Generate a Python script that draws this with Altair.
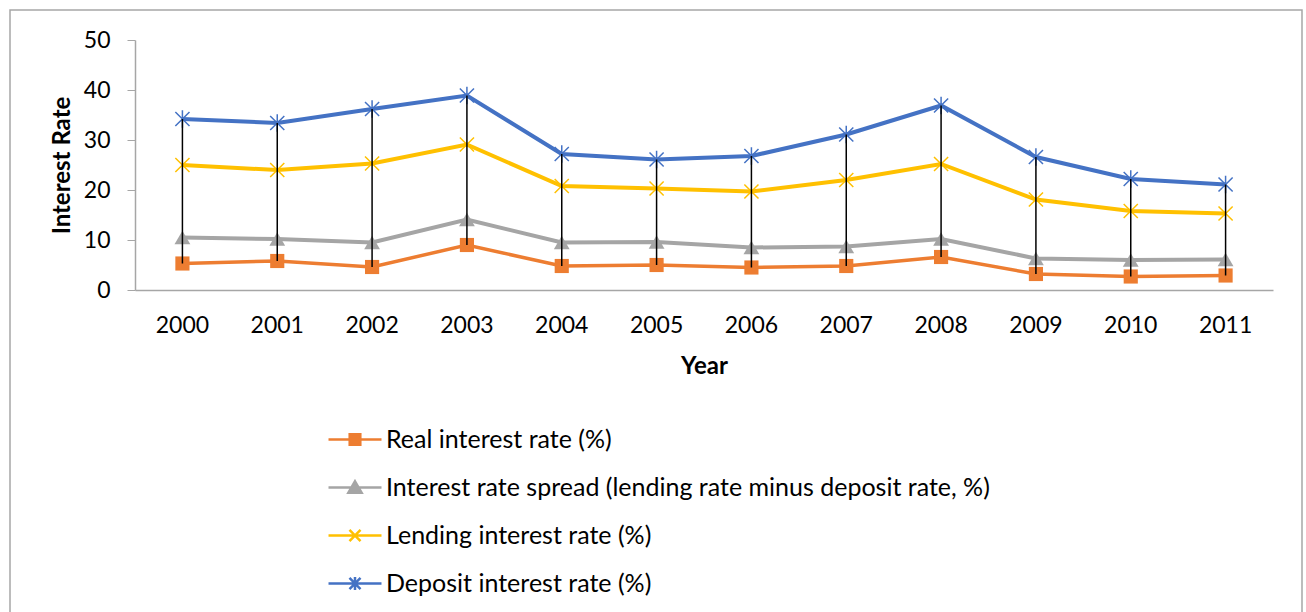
import altair as alt
import pandas as pd

years = ["2000", "2001", "2002", "2003", "2004", "2005", "2006", "2007", "2008", "2009", "2010", "2011"]
series_names = [
    "Real interest rate (%)",
    "Interest rate spread (lending rate minus deposit rate, %)",
    "Lending interest rate (%)",
    "Deposit interest rate (%)",
]
real = [5.3, 5.8, 4.6, 9.0, 4.8, 5.0, 4.5, 4.8, 6.6, 3.2, 2.7, 2.9]
spread = [10.5, 10.2, 9.5, 14.1, 9.5, 9.6, 8.5, 8.7, 10.2, 6.3, 6.0, 6.1]
lending = [25.0, 24.0, 25.3, 29.1, 20.8, 20.3, 19.7, 22.0, 25.2, 18.1, 15.8, 15.3]
deposit = [34.2, 33.4, 36.2, 38.9, 27.2, 26.1, 26.8, 31.1, 36.9, 26.6, 22.2, 21.1]
colors = ["#ED7D31", "#A5A5A5", "#FFC000", "#4472C4"]

values = [real, spread, lending, deposit]
rows = []
for name, vals in zip(series_names, values):
    for y, v in zip(years, vals):
        rows.append({"year": y, "series": name, "value": v})
df = pd.DataFrame(rows)

FONT = "Lato"
X_PATH = "M-1,-1L1,1M-1,1L1,-1"
AST_PATH = "M-1,-1L1,1M-1,1L1,-1M0,-1.25L0,1.25"
marker_specs = [
    dict(shape="square", filled=True, size=200, strokeWidth=0),
    dict(shape="triangle-up", filled=True, size=250, strokeWidth=0),
    dict(shape=X_PATH, filled=False, size=200, strokeWidth=1.5),
    dict(shape=AST_PATH, filled=False, size=200, strokeWidth=1.5),
]
line_widths = [3.5, 4, 4, 4]
legend_paths = [
    "M-1.2,0H1.2M-0.24,-0.24H0.24V0.24H-0.24Z",
    "M-1.2,0H1.2M0,-0.28L0.3,0.24H-0.3Z",
    "M-1.2,0H1.2M-0.25,-0.25L0.25,0.25M-0.25,0.25L0.25,-0.25",
    "M-1.2,0H1.2M-0.25,-0.25L0.25,0.25M-0.25,0.25L0.25,-0.25M0,-0.3V0.3",
]

x_enc = alt.X(
    "year:O",
    sort=years,
    title="Year",
    axis=alt.Axis(labelAngle=0, ticks=False, tickSize=0, labelPadding=24,
                  titlePadding=17, domainColor="#A6A6A6", domainWidth=1.5),
)
y_enc = alt.Y(
    "value:Q",
    title="Interest Rate",
    scale=alt.Scale(domain=[0, 50], nice=False),
    axis=alt.Axis(values=[0, 10, 20, 30, 40, 50], grid=False, tickSize=8,
                  tickColor="#A6A6A6", domainColor="#A6A6A6", domainWidth=1.5,
                  labelPadding=17, titlePadding=9),
)

base = alt.Chart(df)

line_layers = []
marker_layers = []
for name, col, spec, lw in zip(series_names, colors, marker_specs, line_widths):
    sub = base.transform_filter(alt.datum.series == name)
    line_layers.append(sub.mark_line(strokeWidth=lw, color=col).encode(x=x_enc, y=y_enc))
    marker_layers.append(
        sub.mark_point(opacity=1, color=col, **spec).encode(x=x_enc, y=y_enc)
    )

hilo = base.transform_aggregate(
    lo="min(value)", hi="max(value)", groupby=["year"]
).mark_rule(color="black", strokeWidth=1.5).encode(
    x=x_enc, y=alt.Y("lo:Q", scale=alt.Scale(domain=[0, 50], nice=False)), y2="hi:Q"
)

leg = alt.Legend(
    title=None, orient="none", legendX=196.5, legendY=376, direction="vertical",
    symbolSize=1950, symbolStrokeWidth=2.5, labelFont=FONT, labelFontSize=25,
    labelColor="black", labelOffset=7.5, rowPadding=11, padding=0, labelLimit=900,
)
legend_layer = base.transform_filter("false").mark_point(
    filled=True, opacity=1, strokeWidth=2.5
).encode(
    x=x_enc,
    y=y_enc,
    fill=alt.Fill("series:N", scale=alt.Scale(domain=series_names, range=colors), legend=leg),
    stroke=alt.Stroke("series:N", scale=alt.Scale(domain=series_names, range=colors), legend=leg),
    shape=alt.Shape("series:N", scale=alt.Scale(domain=series_names, range=legend_paths), legend=leg),
)

border = alt.Chart(alt.Data(values=[{}])).mark_rect(
    fill="transparent", stroke="#A6A6A6", strokeWidth=1.5
).encode(
    x=alt.value(-125), x2=alt.value(1167), y=alt.value(-30), y2=alt.value(640)
)

chart = alt.layer(border, *line_layers, *marker_layers, hilo, legend_layer).properties(
    width=1138,
    height=250,
    autosize="none",
    padding={"left": 135, "top": 40, "right": 33, "bottom": 322},
).configure_view(stroke=None).configure_axis(
    labelFont=FONT, labelFontSize=23, labelColor="black",
    titleFont=FONT, titleFontSize=24, titleFontWeight="bold", titleColor="black",
)

chart.save("out.html", embed_options={"renderer": "svg", "actions": False})
